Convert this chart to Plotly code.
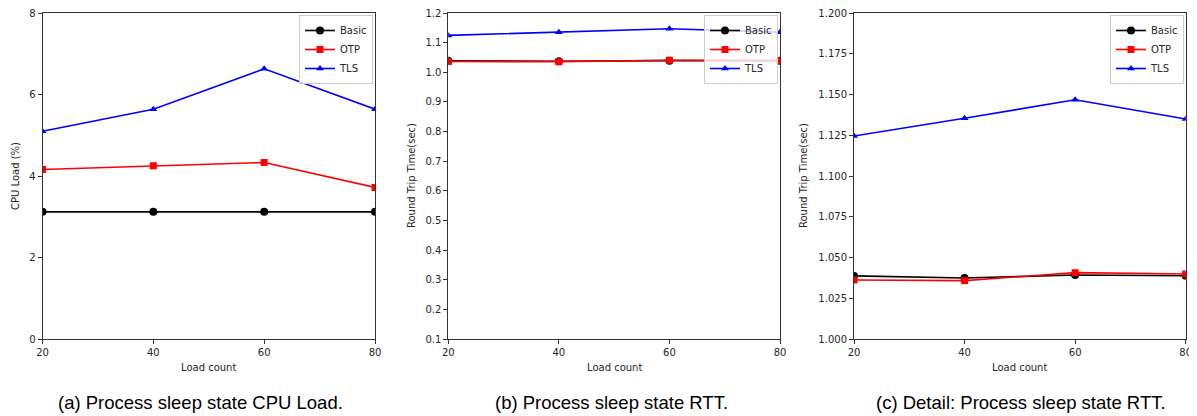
import plotly.graph_objects as go

load_count = [20, 40, 60, 80]
cpu_basic = [3.12, 3.12, 3.12, 3.12]
cpu_otp = [4.16, 4.25, 4.33, 3.72]
cpu_tls = [5.10, 5.64, 6.63, 5.64]
rtt_basic = [1.0387, 1.0374, 1.0393, 1.0388]
rtt_otp = [1.0362, 1.0358, 1.0407, 1.0399]
rtt_tls = [1.1245, 1.1354, 1.1468, 1.1350]

series_names = ["Basic", "OTP", "TLS"]
colors = ["#000000", "#ff0000", "#0000ff"]
symbols = ["circle", "square", "triangle-up"]
msizes = [8, 7, 7]

# page body has an 8px margin; work in window pixels and convert
OFF = 8
W, H = 1197 - OFF, 416 - OFF
def fx(px):
    return (px - OFF) / W
def fy(py):
    return 1 - (py - OFF) / H

top, bottom = 13, 339
xdoms = [(42.5, 375), (448.3, 780), (854, 1185.7)]

fig = go.Figure()
panels = [
    ([cpu_basic, cpu_otp, cpu_tls], [0, 8], [0, 2, 4, 6, 8], None),
    ([rtt_basic, rtt_otp, rtt_tls], [0.1, 1.2], [round(0.1 * i, 1) for i in range(1, 13)], ".1f"),
    ([rtt_basic, rtt_otp, rtt_tls], [1.0, 1.2], [1.0, 1.025, 1.05, 1.075, 1.1, 1.125, 1.15, 1.175, 1.2], ".3f"),
]

axis_color = "#333333"
text_color = "#262626"
tick_font = dict(family="DejaVu Sans", size=10, color=text_color)

for i, (data, yr, yt, fmt) in enumerate(panels):
    n = i + 1
    xa = "x" if n == 1 else f"x{n}"
    ya = "y" if n == 1 else f"y{n}"
    lg = "legend" if n == 1 else f"legend{n}"
    for k in range(3):
        fig.add_trace(go.Scatter(
            x=load_count, y=data[k], name=series_names[k], mode="lines+markers",
            line=dict(color=colors[k], width=1.6),
            marker=dict(symbol=symbols[k], size=msizes[k], color=colors[k]),
            xaxis=xa, yaxis=ya, legend=lg,
        ))
    xd = xdoms[i]
    xkey = "xaxis" if n == 1 else f"xaxis{n}"
    ykey = "yaxis" if n == 1 else f"yaxis{n}"
    fig.update_layout(**{
        xkey: dict(domain=[fx(xd[0]), fx(xd[1])], anchor=ya, range=[20, 80],
                   tickvals=load_count, showgrid=False, zeroline=False, automargin=False,
                   ticklabeloverflow="allow",
                   showline=True, linecolor=axis_color, linewidth=1, mirror=True,
                   ticks="outside", ticklen=4, tickcolor=axis_color, tickfont=tick_font),
        ykey: dict(domain=[fy(bottom), fy(top)], anchor=xa, range=yr,
                   tickvals=yt, tickformat=fmt, showgrid=False, zeroline=False, automargin=False,
                   ticklabeloverflow="allow",
                   showline=True, linecolor=axis_color, linewidth=1, mirror=True,
                   ticks="outside", ticklen=4, tickcolor=axis_color, tickfont=tick_font),
    })

legend_pos = [(299, 15), (704, 15), (1110, 15)]
for i, (lx, ly) in enumerate(legend_pos):
    key = "legend" if i == 0 else f"legend{i+1}"
    fig.update_layout(**{key: dict(
        x=fx(lx), y=fy(ly), xanchor="left", yanchor="top",
        bgcolor="rgba(255,255,255,0.8)", bordercolor="#cccccc", borderwidth=1,
        font=dict(family="DejaVu Sans", size=10, color=text_color),
        tracegroupgap=0, itemwidth=30,
    )})

annotations = []
ytitles = ["CPU Load (%)", "Round Trip Time(sec)", "Round Trip Time(sec)"]
ytitle_x = [15, 411, 803]
captions = ["(a) Process sleep state CPU Load.", "(b) Process sleep state RTT.",
            "(c) Detail: Process sleep state RTT."]
caption_x = [200, 611, 1021]
for i in range(3):
    xd = xdoms[i]
    cx = (xd[0] + xd[1]) / 2
    annotations.append(dict(text="Load count", x=fx(cx), y=fy(367), xref="paper", yref="paper",
                            xanchor="center", yanchor="middle", showarrow=False,
                            font=dict(family="DejaVu Sans", size=10, color=text_color)))
    annotations.append(dict(text=ytitles[i], x=fx(ytitle_x[i]), y=fy((top + bottom) / 2),
                            xref="paper", yref="paper", textangle=-90, showarrow=False,
                            xanchor="center", yanchor="middle",
                            font=dict(family="DejaVu Sans", size=10, color=text_color)))
    annotations.append(dict(text=captions[i], x=fx(caption_x[i]), y=fy(402), xref="paper", yref="paper",
                            xanchor="center", yanchor="middle", showarrow=False,
                            font=dict(family="Liberation Sans", size=18.5, color="#000000")))

fig.update_layout(width=W, height=H, margin=dict(l=0, r=0, t=0, b=0, autoexpand=False),
                  paper_bgcolor="white", plot_bgcolor="white",
                  annotations=annotations, showlegend=True)

fig.write_html("out.html")
